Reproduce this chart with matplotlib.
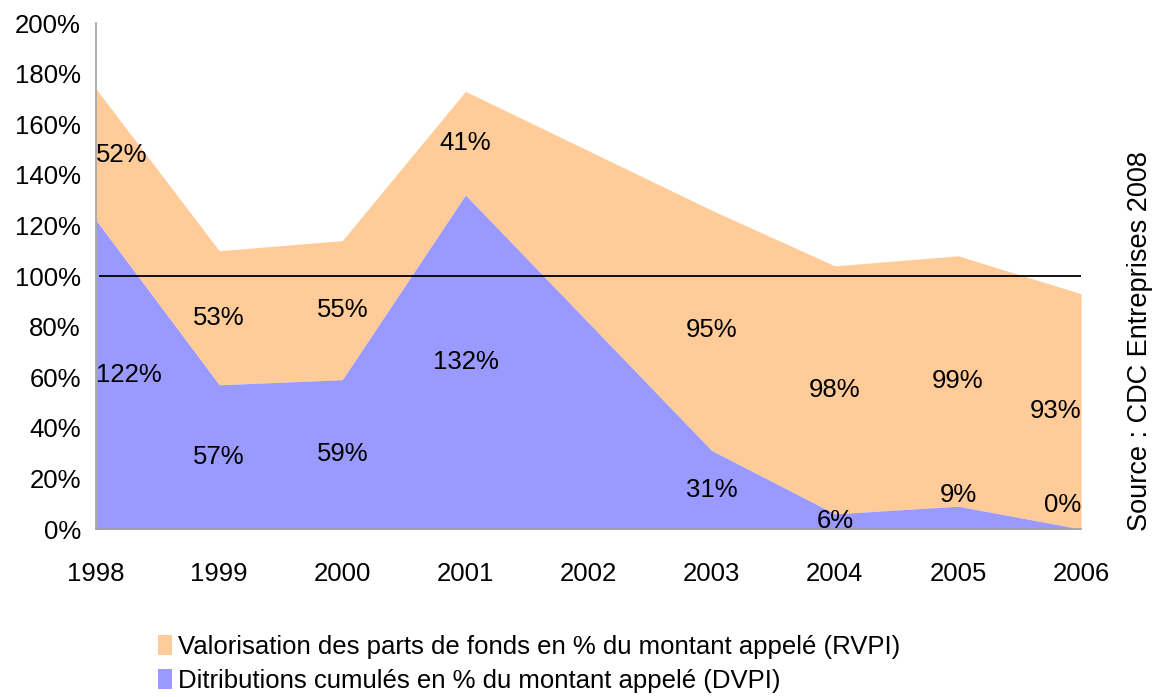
import matplotlib
matplotlib.use("Agg")
import matplotlib.pyplot as plt
import numpy as np

plt.rcParams['font.family'] = ['Liberation Sans', 'DejaVu Sans']

years = [1998, 1999, 2000, 2001, 2003, 2004, 2005, 2006]
tick_years = [1998, 1999, 2000, 2001, 2002, 2003, 2004, 2005, 2006]
dvpi = [122, 57, 59, 132, 31, 6, 9, 0]
rvpi = [52, 53, 55, 41, 95, 98, 99, 93]
yticks = [0, 20, 40, 60, 80, 100, 120, 140, 160, 180, 200]

label_rvpi = "Valorisation des parts de fonds en % du montant appelé (RVPI)"
label_dvpi = "Ditributions cumulés en % du montant appelé (DVPI)"
source = "Source : CDC Entreprises 2008"

c_rvpi = "#FFCC99"
c_dvpi = "#9999FF"
FS = 18.5

fig = plt.figure(figsize=(11.6, 6.97), dpi=100)
ax = fig.add_axes([0.0828, 0.241, 0.8492, 0.726])

x = np.array(years, dtype=float)
d = np.array(dvpi, dtype=float)
r = np.array(rvpi, dtype=float)
top = d + r

h_r = ax.fill_between(x, d, top, color=c_rvpi, linewidth=0, label=label_rvpi)
h_d = ax.fill_between(x, 0, d, color=c_dvpi, linewidth=0, label=label_dvpi)

ax.axhline(100, xmin=0.004, xmax=1.0, color='black', linewidth=1.3)

ax.set_xlim(1998, 2006)
ax.set_ylim(0, 200)
ax.set_xticks(tick_years)
ax.set_xticklabels([str(y) for y in tick_years])
ax.set_yticks(yticks)
ax.set_yticklabels([f"{v}%" for v in yticks])
ax.tick_params(axis='both', length=0, labelsize=FS)
ax.tick_params(axis='y', pad=11)
ax.tick_params(axis='x', pad=24)
for s in ['top', 'right']:
    ax.spines[s].set_visible(False)
for s in ['left', 'bottom']:
    ax.spines[s].set_color('#A0A0A0')
    ax.spines[s].set_linewidth(1.2)

# data labels
extra_offset = {(2005, 'd'): 16, (2006, 'd'): 17}
for xi, dv, rv in zip(years, dvpi, rvpi):
    if xi == years[0]:
        ha = 'left'
    elif xi == years[-1]:
        ha = 'right'
    else:
        ha = 'center'
    off_d = extra_offset.get((xi, 'd'), 0)
    ax.annotate(f"{dv}%", (xi, dv / 2), xytext=(0, off_d), textcoords='offset points',
                ha=ha, va='center', fontsize=FS)
    ax.annotate(f"{rv}%", (xi, dv + rv / 2), xytext=(0, 0), textcoords='offset points',
                ha=ha, va='center', fontsize=FS)

fig.legend(handles=[h_r, h_d], labels=[label_rvpi, label_dvpi],
           loc='upper left', bbox_to_anchor=(0.136, 0.089), frameon=False,
           fontsize=FS, handlelength=0.55, handleheight=0.85, handletextpad=0.25,
           labelspacing=0.38, borderaxespad=0, borderpad=0)

fig.text(0.983, 0.511, source, rotation=90, ha='center', va='center', fontsize=19.5)

fig.savefig("out.png", dpi=100)
